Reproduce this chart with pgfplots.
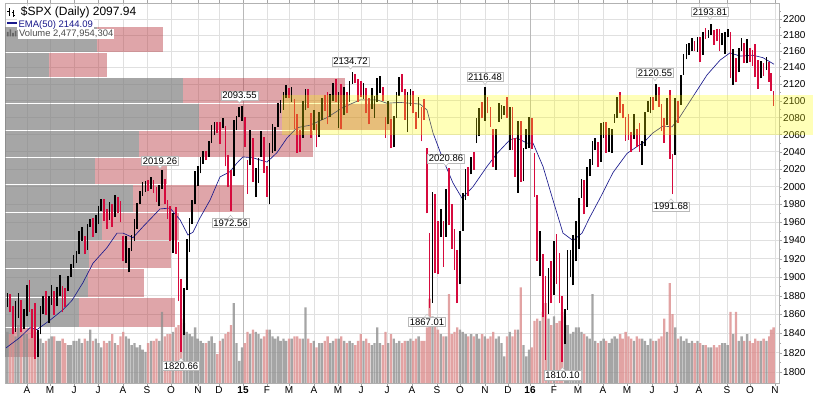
\documentclass[border=0pt]{standalone}
\usepackage{pgfplots}
\pgfplotsset{compat=1.18}
\usepackage{fontspec}
\setmainfont{Liberation Sans}
\definecolor{pricered}{rgb}{0.84,0.04,0.24}
\definecolor{emablue}{rgb}{0.10,0.10,0.55}
\definecolor{vbpgrey}{rgb}{0.5,0.5,0.5}
\definecolor{vbpred}{rgb}{0.72,0.22,0.25}
\definecolor{volgrey}{rgb}{0.56,0.56,0.56}
\definecolor{volred}{rgb}{0.86,0.55,0.55}
\definecolor{hl}{rgb}{1,1,0}
\pgfplotsset{
  base/.style={scale only axis, width=774pt, height=380pt, xmin=5, xmax=779, at={(0pt,0pt)}, anchor=south west},
}
\tikzset{tagbox/.style={draw=gray!55, fill=white, inner sep=1.2pt, font=\fontsize{9.5}{10}\selectfont}}
\newcommand{\vbp}[4]{%
  \addplot[fill=vbpgrey, fill opacity=0.7, draw=none] coordinates {(5,#1)(#3,#1)(#3,#2)(5,#2)} -- cycle;
  \addplot[fill=vbpred, fill opacity=0.45, draw=none] coordinates {(#3,#1)(#4,#1)(#4,#2)(#3,#2)} -- cycle;}
\newcommand{\tagdown}[3]{%
  \node[tagbox] (tg) at (axis cs:#1,#2) {#3};
  \draw[gray!55, fill=white] ([xshift=-2.5pt]tg.south) -- ([yshift=-3pt]tg.south) -- ([xshift=2.5pt]tg.south);}
\newcommand{\tagup}[3]{%
  \node[tagbox] (tg) at (axis cs:#1,#2) {#3};
  \draw[gray!55, fill=white] ([xshift=-2.5pt]tg.north) -- ([yshift=3pt]tg.north) -- ([xshift=2.5pt]tg.north);}
\begin{document}
\begin{tikzpicture}[font=\fontsize{10}{12}\selectfont]
% ---------- axis 1: frame, grid, ticks, volume-by-price ----------
\begin{axis}[base, ymode=log, ymin=1789, ymax=2220.1,
  xtick={27,50,74,98,123,147,171,198,219,243,267,289,314,338,361,387,412,437,460,485,508,530,554,578,603,627,652,676,699,727,750,775},
  xticklabels={A,M,J,J,A,S,O,N,D,\textbf{15},F,M,A,M,J,J,A,S,O,N,D,\textbf{16},F,M,A,M,J,J,A,S,O,N},
  extra x ticks={243,530}, extra x tick labels={},
  extra x tick style={grid=major, major grid style={gray!55, line width=0.6pt}},
  ytick={1800,1820,1840,1860,1880,1900,1920,1940,1960,1980,2000,2020,2040,2060,2080,2100,2120,2140,2160,2180,2200},
  yticklabels={1800,1820,1840,1860,1880,1900,1920,1940,1960,1980,2000,2020,2040,2060,2080,2100,2120,2140,2160,2180,2200},
  minor ytick={1810,1830,1850,1870,1890,1910,1930,1950,1970,1990,2010,2030,2050,2070,2090,2110,2130,2150,2170,2190,2210},
  ytick pos=right, yticklabel pos=right,
  grid=major, major grid style={gray!24, line width=0.6pt},
  tick align=outside, major tick length=3pt, minor tick length=1.5pt,
  tick style={gray!70}, axis line style={gray!60},
  yticklabel style={inner sep=1pt}, xticklabel style={inner sep=1pt},
]
\vbp{2159.4}{2189.4}{97}{163}
\vbp{2128.1}{2158.1}{49}{107}
\vbp{2096.9}{2126.9}{183}{345}
\vbp{2065.6}{2095.6}{199}{392}
\vbp{2034.4}{2064.4}{139}{313}
\vbp{2003.1}{2033.1}{95}{167}
\vbp{1971.9}{2001.9}{133}{244}
\vbp{1940.6}{1970.6}{102}{179}
\vbp{1909.4}{1939.4}{89}{171}
\vbp{1878.1}{1908.1}{88}{144}
\vbp{1846.9}{1876.9}{79}{175}
\vbp{1815.6}{1845.6}{14}{35}
\end{axis}
% ---------- axis 2: volume (billions of shares) ----------
\begin{axis}[base, ymin=0, ymax=17.1, hide axis]
\addplot[ybar, bar width=2.3, bar shift=0pt, fill=volgrey, fill opacity=0.8, draw=none] coordinates {
(7.4,2.3)(15.6,2.1)(18.4,2.6)(24.0,2.2)(26.7,2.2)(37.7,2.3)(40.5,2.0)(43.2,1.8)(48.8,2.0)(51.6,2.1)(57.1,1.9)(59.8,1.9)(68.1,1.7)(70.8,1.7)(73.6,1.9)(76.4,1.9)(79.2,2.0)(81.9,1.8)(87.4,1.9)(90.2,2.4)(95.7,2.0)(98.4,1.8)(101.2,1.6)(109.5,1.9)(115.0,1.8)(126.0,2.1)(128.8,2.0)(131.6,1.7)(134.4,1.8)(137.1,1.6)(139.9,1.7)(142.6,1.5)(145.4,1.4)(150.9,1.9)(159.2,1.9)(162.0,3.2)(173.0,2.3)(184.0,2.7)(186.8,2.3)(189.6,2.2)(192.3,2.1)(195.1,2.5)(197.8,2.0)(200.6,1.9)(203.3,1.8)(208.8,1.9)(211.6,2.1)(214.4,1.8)(222.7,2.0)(233.7,3.6)(236.4,1.8)(239.2,1.0)(242.0,1.6)(250.3,2.2)(255.8,2.3)(258.5,2.2)(261.3,2.0)(269.6,2.4)(272.4,2.1)(275.1,2.0)(277.9,2.1)(280.6,1.9)(283.4,2.0)(286.1,1.9)(291.6,2.0)(302.7,2.0)(305.5,3.4)(313.7,1.9)(319.2,1.8)(322.0,1.8)(330.3,1.8)(333.1,1.9)(338.6,2.0)(344.1,1.9)(349.6,1.9)(352.4,1.8)(363.4,1.9)(371.7,1.7)(374.4,1.8)(377.2,2.5)(380.0,1.8)(388.3,1.8)(393.8,2.0)(396.5,1.8)(399.3,1.9)(407.6,1.9)(410.4,2.0)(418.6,2.1)(432.4,3.0)(440.7,2.2)(446.2,2.1)(460.0,2.4)(462.8,2.3)(465.6,2.2)(471.1,2.2)(476.6,2.2)(479.3,2.0)(484.8,2.1)(495.9,2.0)(498.7,2.1)(501.4,1.8)(504.2,1.2)(509.7,2.3)(518.0,2.4)(523.5,1.7)(526.3,1.2)(529.0,1.5)(540.0,2.8)(548.4,2.9)(553.9,3.0)(564.9,3.0)(567.6,2.6)(570.4,2.2)(573.2,2.3)(576.0,2.5)(578.7,2.5)(581.5,2.3)(587.0,2.1)(589.7,2.0)(592.5,4.0)(595.2,1.9)(600.8,1.9)(603.6,2.0)(609.1,1.8)(611.8,2.0)(614.6,2.1)(617.3,2.0)(633.9,1.9)(642.2,2.0)(644.9,1.9)(647.7,1.7)(650.4,2.0)(656.0,1.9)(667.0,2.3)(675.3,2.5)(680.8,2.1)(683.6,1.9)(686.4,2.0)(689.1,1.8)(691.9,1.9)(697.4,1.9)(702.9,1.7)(708.4,1.6)(711.2,1.6)(722.2,1.8)(725.0,1.8)(727.7,1.7)(733.2,2.2)(738.8,1.9)(741.6,2.1)(747.1,2.2)(760.8,1.9)(766.4,1.9)};
\addplot[ybar, bar width=2.3, bar shift=0pt, fill=volred, fill opacity=0.8, draw=none] coordinates {
(10.1,2.2)(12.9,2.4)(21.2,2.3)(29.5,2.0)(32.2,2.4)(35.0,2.6)(46.0,1.9)(54.3,2.1)(62.6,2.0)(65.3,1.8)(84.7,2.0)(92.9,1.9)(104.0,1.9)(106.8,1.8)(112.3,2.2)(117.8,1.7)(120.5,2.1)(123.3,2.3)(148.1,1.8)(153.6,1.9)(156.4,2.0)(164.7,2.1)(167.5,2.2)(170.2,2.2)(175.7,2.5)(178.5,2.6)(181.2,2.9)(206.1,1.8)(217.2,1.3)(219.9,1.9)(225.4,2.2)(228.2,2.3)(230.9,2.6)(244.8,1.8)(247.5,2.3)(253.0,2.4)(264.0,2.1)(266.8,2.4)(288.9,2.0)(294.4,2.1)(297.2,2.1)(300.0,2.0)(308.2,2.0)(311.0,1.8)(316.5,1.6)(324.8,1.9)(327.6,2.1)(335.8,2.0)(341.3,2.1)(346.8,1.8)(355.2,1.7)(357.9,1.9)(360.7,2.2)(366.2,2.0)(368.9,1.8)(382.8,1.7)(385.5,2.3)(391.0,2.2)(402.0,1.8)(404.8,1.9)(413.1,1.9)(415.9,2.0)(421.4,1.9)(424.1,1.9)(426.9,2.5)(429.6,3.8)(435.2,2.6)(438.0,2.4)(443.5,2.1)(449.0,4.0)(451.7,2.2)(454.5,2.3)(457.2,2.5)(468.3,2.1)(473.8,2.1)(482.1,2.2)(487.6,2.0)(490.4,2.1)(493.2,2.3)(506.9,2.1)(512.4,2.1)(515.2,2.4)(520.8,4.3)(531.8,1.6)(534.5,2.8)(537.3,2.9)(542.8,3.2)(545.6,3.6)(551.1,2.6)(556.6,2.7)(559.4,2.8)(562.1,3.2)(584.2,2.2)(598.0,1.8)(606.3,1.9)(620.1,2.2)(622.8,2.0)(625.6,2.3)(628.4,2.1)(631.2,2.0)(636.7,2.1)(639.4,2.0)(653.2,1.9)(658.8,2.0)(661.5,2.1)(664.3,2.9)(669.8,4.5)(672.5,3.1)(678.0,2.0)(694.6,1.8)(700.1,1.8)(705.6,1.7)(714.0,1.7)(716.7,1.6)(719.5,1.7)(730.5,3.2)(736.0,3.2)(744.3,1.9)(749.8,1.9)(752.6,1.8)(755.3,2.0)(758.1,1.9)(763.6,2.0)(769.2,2.1)(771.0,2.4)(773.6,2.5)};
\end{axis}
% ---------- axis 3: price bars, EMA, highlight, annotations ----------
\begin{axis}[base, ymode=log, ymin=1789, ymax=2220.1, hide axis, clip=false]
\addplot[emablue, line width=0.65pt] coordinates {
(6,1825)(20,1836)(30,1846)(37,1844)(50,1854)(63,1865)(72,1875)(83,1894)(93,1915)(107,1932)(117,1948)(123,1948)(133,1943)(143,1955)(160,1975)(170,1976)(180,1963)(188,1946)(193,1949)(200,1965)(210,1985)(220,2011)(230,2017)(237,2027)(243,2034)(253,2033)(267,2028)(277,2039)(287,2056)(297,2068)(310,2071)(327,2080)(343,2092)(360,2101)(377,2101)(387,2097)(400,2098)(410,2097)(420,2096)(427,2089)(433,2062)(443,2031)(453,2004)(462,1987)(473,2000)(487,2023)(497,2038)(510,2054)(517,2056)(527,2050)(533,2050)(543,2023)(553,1985)(563,1948)(573,1940)(582,1948)(590,1966)(600,1987)(613,2016)(627,2038)(637,2046)(643,2050)(653,2062)(663,2070)(672,2069)(680,2081)(693,2105)(707,2131)(720,2149)(730,2158)(740,2154)(753,2155)(763,2152)(774,2144)};
\addplot[black, line width=1.7pt, unbounded coords=jump] coordinates {
(7.4,1868)(7.4,1883)(7.4,nan) (15.6,1842)(15.6,1874)(15.6,nan) (18.4,1856)(18.4,1883)(18.4,nan) (24.0,1845)(24.0,1866)(24.0,nan) (26.7,1858)(26.7,1891)(26.7,nan) (37.7,1816)(37.7,1844)(37.7,nan) (40.5,1839)(40.5,1869)(40.5,nan) (43.2,1860)(43.2,1880)(43.2,nan) (48.8,1851)(48.8,1880)(48.8,nan) (51.6,1870)(51.6,1891)(51.6,nan) (57.1,1869)(57.1,1889)(57.1,nan) (59.8,1880)(59.8,1902)(59.8,nan) (68.1,1885)(68.1,1901)(68.1,nan) (70.8,1900)(70.8,1914)(70.8,nan) (73.6,1910)(73.6,1924)(73.6,nan) (76.4,1915)(76.4,1928)(76.4,nan) (79.2,1925)(79.2,1950)(79.2,nan) (81.9,1940)(81.9,1955)(81.9,nan) (87.4,1930)(87.4,1958)(87.4,nan) (90.2,1955)(90.2,1964)(90.2,nan) (95.7,1948)(95.7,1968)(95.7,nan) (98.4,1958)(98.4,1978)(98.4,nan) (101.2,1972)(101.2,1986)(101.2,nan) (109.5,1963)(109.5,1983)(109.5,nan) (115.0,1966)(115.0,1991)(115.0,nan) (126.0,1915)(126.0,1945)(126.0,nan) (128.8,1905)(128.8,1932)(128.8,nan) (131.6,1928)(131.6,1946)(131.6,nan) (134.4,1939)(134.4,1964)(134.4,nan) (137.1,1953)(137.1,1982)(137.1,nan) (139.9,1980)(139.9,1995)(139.9,nan) (142.6,1990)(142.6,2005)(142.6,nan) (145.4,1994)(145.4,2006)(145.4,nan) (150.9,1998)(150.9,2011)(150.9,nan) (159.2,1978)(159.2,2002)(159.2,nan) (162.0,1998)(162.0,2019.26)(162.0,nan) (173.0,1926)(173.0,1970)(173.0,nan) (184.0,1838)(184.0,1888)(184.0,nan) (186.8,1886)(186.8,1942)(186.8,nan) (189.6,1927)(189.6,1965)(189.6,nan) (192.3,1958)(192.3,1985)(192.3,nan) (195.1,1980)(195.1,2018)(195.1,nan) (197.8,2001)(197.8,2024)(197.8,nan) (200.6,2015)(200.6,2034)(200.6,nan) (203.3,2026)(203.3,2041)(203.3,nan) (208.8,2034)(208.8,2052)(208.8,nan) (211.6,2050)(211.6,2071)(211.6,nan) (214.4,2059)(214.4,2075)(214.4,nan) (222.7,2068)(222.7,2079)(222.7,nan) (233.7,2012)(233.7,2077)(233.7,nan) (236.4,2065)(236.4,2082)(236.4,nan) (239.2,2081)(239.2,2093)(239.2,nan) (242.0,2076)(242.0,2093.55)(242.0,nan) (250.3,2025)(250.3,2065)(250.3,nan) (255.8,1988)(255.8,2021)(255.8,nan) (258.5,2004)(258.5,2033)(258.5,nan) (261.3,2034)(261.3,2064)(261.3,nan) (269.6,1980)(269.6,2050)(269.6,nan) (272.4,2039)(272.4,2072)(272.4,nan) (275.1,2041)(275.1,2069)(275.1,nan) (277.9,2069)(277.9,2097)(277.9,nan) (280.6,2085)(280.6,2101)(280.6,nan) (283.4,2089)(283.4,2110)(283.4,nan) (286.1,2103)(286.1,2119)(286.1,nan) (291.6,2098)(291.6,2117)(291.6,nan) (302.7,2056)(302.7,2100)(302.7,nan) (305.5,2089)(305.5,2114)(305.5,nan) (313.7,2065)(313.7,2089)(313.7,nan) (319.2,2057)(319.2,2086)(319.2,nan) (322.0,2077)(322.0,2103)(322.0,nan) (330.3,2081)(330.3,2108)(330.3,nan) (333.1,2100)(333.1,2121)(333.1,nan) (338.6,2068)(338.6,2110)(338.6,nan) (344.1,2083)(344.1,2117)(344.1,nan) (349.6,2099)(349.6,2124)(349.6,nan) (352.4,2120)(352.4,2134.72)(352.4,nan) (363.4,2102)(363.4,2121)(363.4,nan) (371.7,2090)(371.7,2115)(371.7,nan) (374.4,2080)(374.4,2106)(374.4,nan) (377.2,2098)(377.2,2127)(377.2,nan) (380.0,2109)(380.0,2130)(380.0,nan) (388.3,2072)(388.3,2100)(388.3,nan) (393.8,2045)(393.8,2082)(393.8,nan) (396.5,2079)(396.5,2110)(396.5,nan) (399.3,2106)(399.3,2128)(399.3,nan) (407.6,2063)(407.6,2110)(407.6,nan) (410.4,2094)(410.4,2114)(410.4,nan) (418.6,2079)(418.6,2105)(418.6,nan) (432.4,1872)(432.4,1994)(432.4,nan) (440.7,1944)(440.7,1975)(440.7,nan) (446.2,1944)(446.2,1997)(446.2,nan) (460.0,1892)(460.0,1951)(460.0,nan) (462.8,1951)(462.8,1993)(462.8,nan) (465.6,1985)(465.6,2020)(465.6,nan) (471.1,2014)(471.1,2034)(471.1,nan) (476.6,2050)(476.6,2080)(476.6,nan) (479.3,2058)(479.3,2091)(479.3,nan) (484.8,2076)(484.8,2116.48)(484.8,nan) (495.9,2019)(495.9,2066)(495.9,nan) (498.7,2075)(498.7,2097)(498.7,nan) (501.4,2078)(501.4,2095)(501.4,nan) (504.2,2083)(504.2,2094)(504.2,nan) (509.7,2042)(509.7,2093)(509.7,nan) (518.0,1993)(518.0,2076)(518.0,nan) (523.5,2006)(523.5,2044)(523.5,nan) (526.3,2043)(526.3,2067)(526.3,nan) (529.0,2044)(529.0,2081)(529.0,nan) (540.0,1901)(540.0,1950)(540.0,nan) (548.4,1860)(548.4,1910)(548.4,nan) (553.9,1881)(553.9,1940)(553.9,nan) (564.9,1829)(564.9,1866)(564.9,nan) (567.6,1865)(567.6,1930)(567.6,nan) (570.4,1900)(570.4,1930)(570.4,nan) (573.2,1891)(573.2,1946)(573.2,nan) (576.0,1917)(576.0,1962)(576.0,nan) (578.7,1931)(578.7,1987)(578.7,nan) (581.5,1987)(581.5,2009)(581.5,nan) (587.0,1977)(587.0,2022)(587.0,nan) (589.7,2012)(589.7,2032)(589.7,nan) (592.5,2025)(592.5,2052)(592.5,nan) (595.2,2042)(595.2,2056)(595.2,nan) (600.8,2028)(600.8,2073)(600.8,nan) (603.6,2056)(603.6,2075)(603.6,nan) (609.1,2040)(609.1,2068)(609.1,nan) (611.8,2039)(611.8,2066)(611.8,nan) (614.6,2074)(614.6,2084)(614.6,nan) (617.3,2080)(617.3,2105)(617.3,nan) (633.9,2055)(633.9,2084)(633.9,nan) (642.2,2025)(642.2,2053)(642.2,nan) (644.9,2047)(644.9,2086)(644.9,nan) (647.7,2087)(647.7,2100)(647.7,nan) (650.4,2085)(650.4,2105)(650.4,nan) (656.0,2100)(656.0,2120.55)(656.0,nan) (667.0,2071)(667.0,2103)(667.0,nan) (675.3,2036)(675.3,2103)(675.3,nan) (680.8,2095)(680.8,2131)(680.8,nan) (683.6,2131)(683.6,2156)(683.6,nan) (686.4,2150)(686.4,2169)(686.4,nan) (689.1,2155)(689.1,2170)(689.1,nan) (691.9,2160)(691.9,2176)(691.9,nan) (697.4,2159)(697.4,2177)(697.4,nan) (702.9,2155)(702.9,2184)(702.9,nan) (708.4,2176)(708.4,2186)(708.4,nan) (711.2,2180)(711.2,2193.81)(711.2,nan) (722.2,2167)(722.2,2183)(722.2,nan) (725.0,2157)(725.0,2184)(725.0,nan) (727.7,2177)(727.7,2187)(727.7,nan) (733.2,2119)(733.2,2163)(733.2,nan) (738.8,2134)(738.8,2164)(738.8,nan) (741.6,2160)(741.6,2176)(741.6,nan) (747.1,2145)(747.1,2175)(747.1,nan) (760.8,2127)(760.8,2148)(760.8,nan) (766.4,2137)(766.4,2153)(766.4,nan)};
\addplot[pricered, line width=1.7pt, unbounded coords=jump] coordinates {
(10.1,1862)(10.1,1882)(10.1,nan) (12.9,1839)(12.9,1869)(12.9,nan) (21.2,1842)(21.2,1875)(21.2,nan) (29.5,1863)(29.5,1897)(29.5,nan) (32.2,1835)(32.2,1866)(32.2,nan) (35.0,1814)(35.0,1872)(35.0,nan) (46.0,1859)(46.0,1885)(46.0,nan) (54.3,1859)(54.3,1885)(54.3,nan) (62.6,1862)(62.6,1890)(62.6,nan) (65.3,1868)(65.3,1888)(65.3,nan) (84.7,1925)(84.7,1945)(84.7,nan) (92.9,1944)(92.9,1965)(92.9,nan) (104.0,1962)(104.0,1986)(104.0,nan) (106.8,1953)(106.8,1975)(106.8,nan) (112.3,1955)(112.3,1980)(112.3,nan) (117.8,1970)(117.8,1989)(117.8,nan) (120.5,1960)(120.5,1984)(120.5,nan) (123.3,1917)(123.3,1945)(123.3,nan) (148.1,1995)(148.1,2007)(148.1,nan) (153.6,1993)(153.6,2008)(153.6,nan) (156.4,1983)(156.4,2000)(156.4,nan) (164.7,1980)(164.7,2009)(164.7,nan) (167.5,1964)(167.5,1985)(167.5,nan) (170.2,1940)(170.2,1978)(170.2,nan) (175.7,1925)(175.7,1977)(175.7,nan) (178.5,1874)(178.5,1938)(178.5,nan) (181.2,1820.66)(181.2,1898)(181.2,nan) (206.1,2030)(206.1,2041)(206.1,nan) (217.2,2062)(217.2,2075)(217.2,nan) (219.9,2049)(219.9,2075)(219.9,nan) (225.4,2023)(225.4,2070)(225.4,nan) (228.2,2000)(228.2,2036)(228.2,nan) (230.9,1972.56)(230.9,2019)(230.9,nan) (244.8,2046)(244.8,2081)(244.8,nan) (247.5,1992)(247.5,2030)(247.5,nan) (253.0,2005)(253.0,2056)(253.0,nan) (264.0,2016)(264.0,2057)(264.0,nan) (266.8,1989)(266.8,2023)(266.8,nan) (288.9,2103)(288.9,2115)(288.9,nan) (294.4,2066)(294.4,2102)(294.4,nan) (297.2,2039)(297.2,2084)(297.2,nan) (300.0,2040)(300.0,2065)(300.0,nan) (308.2,2091)(308.2,2114)(308.2,nan) (311.0,2056)(311.0,2085)(311.0,nan) (316.5,2045)(316.5,2072)(316.5,nan) (324.8,2088)(324.8,2107)(324.8,nan) (327.6,2072)(327.6,2111)(327.6,nan) (335.8,2099)(335.8,2126)(335.8,nan) (341.3,2067)(341.3,2120)(341.3,nan) (346.8,2085)(346.8,2110)(346.8,nan) (355.2,2121)(355.2,2132)(355.2,nan) (357.9,2099)(357.9,2126)(357.9,nan) (360.7,2104)(360.7,2124)(360.7,nan) (366.2,2085)(366.2,2115)(366.2,nan) (368.9,2072)(368.9,2103)(368.9,nan) (382.8,2100)(382.8,2117)(382.8,nan) (385.5,2056)(385.5,2081)(385.5,nan) (391.0,2044)(391.0,2078)(391.0,nan) (402.0,2110)(402.0,2132)(402.0,nan) (404.8,2077)(404.8,2114)(404.8,nan) (413.1,2085)(413.1,2112)(413.1,nan) (415.9,2067)(415.9,2087)(415.9,nan) (421.4,2052)(421.4,2093)(421.4,nan) (424.1,2077)(424.1,2102)(424.1,nan) (426.9,1970)(426.9,2044)(426.9,nan) (429.6,1867.01)(429.6,1948)(429.6,nan) (435.2,1904)(435.2,1992)(435.2,nan) (438.0,1903)(438.0,1962)(438.0,nan) (443.5,1911)(443.5,1961)(443.5,nan) (449.0,1957)(449.0,2020.86)(449.0,nan) (451.7,1931)(451.7,1981)(451.7,nan) (454.5,1908)(454.5,1953)(454.5,nan) (457.2,1872)(457.2,1929)(457.2,nan) (468.3,1990)(468.3,2022)(468.3,nan) (473.8,2019)(473.8,2040)(473.8,nan) (482.1,2079)(482.1,2099)(482.1,nan) (487.6,2085)(487.6,2104)(487.6,nan) (490.4,2069)(490.4,2093)(490.4,nan) (493.2,2022)(493.2,2067)(493.2,nan) (506.9,2080)(506.9,2104)(506.9,nan) (512.4,2042)(512.4,2093)(512.4,nan) (515.2,2011)(515.2,2056)(515.2,nan) (520.8,2005)(520.8,2076)(520.8,nan) (531.8,2043)(531.8,2080)(531.8,nan) (534.5,1989)(534.5,2038)(534.5,nan) (537.3,1918)(537.3,1991)(537.3,nan) (542.8,1857)(542.8,1925)(542.8,nan) (545.6,1812.29)(545.6,1901)(545.6,nan) (551.1,1872)(551.1,1917)(551.1,nan) (556.6,1893)(556.6,1947)(556.6,nan) (559.4,1872)(559.4,1926)(559.4,nan) (562.1,1810.10)(562.1,1880)(562.1,nan) (584.2,1969)(584.2,2007)(584.2,nan) (598.0,2022)(598.0,2051)(598.0,nan) (606.3,2039)(606.3,2075)(606.3,nan) (620.1,2085)(620.1,2111)(620.1,nan) (622.8,2079)(622.8,2096)(622.8,nan) (625.6,2053)(625.6,2081)(625.6,nan) (628.4,2054)(628.4,2084)(628.4,nan) (631.2,2040)(631.2,2063)(631.2,nan) (636.7,2045)(636.7,2067)(636.7,nan) (639.4,2040)(639.4,2073)(639.4,nan) (653.2,2089)(653.2,2105)(653.2,nan) (658.8,2093)(658.8,2116)(658.8,nan) (661.5,2064)(661.5,2096)(661.5,nan) (664.3,2050)(664.3,2080)(664.3,nan) (669.8,2032)(669.8,2113)(669.8,nan) (672.5,1991.68)(672.5,2037)(672.5,nan) (678.0,2074)(678.0,2100)(678.0,nan) (694.6,2160)(694.6,2173)(694.6,nan) (700.1,2147)(700.1,2178)(700.1,nan) (705.6,2175)(705.6,2188)(705.6,nan) (714.0,2168)(714.0,2186)(714.0,nan) (716.7,2172)(716.7,2187)(716.7,nan) (719.5,2160)(719.5,2187)(719.5,nan) (730.5,2127)(730.5,2184)(730.5,nan) (736.0,2122)(736.0,2152)(736.0,nan) (744.3,2145)(744.3,2170)(744.3,nan) (749.8,2147)(749.8,2164)(749.8,nan) (752.6,2142)(752.6,2161)(752.6,nan) (755.3,2128)(755.3,2169)(755.3,nan) (758.1,2114)(758.1,2149)(758.1,nan) (763.6,2130)(763.6,2146)(763.6,nan) (769.2,2123)(769.2,2147)(769.2,nan) (771.0,2112)(771.0,2133)(771.0,nan) (773.6,2094)(773.6,2112)(773.6,nan)};
% yellow highlight band
\addplot[fill=hl, fill opacity=0.28, draw=none] coordinates {(282,2059)(813,2059)(813,2107)(282,2107)} -- cycle;
% annotations
\tagdown{710}{2208.8}{2193.81}
\tagdown{655}{2133.5}{2120.55}
\tagdown{485}{2128.7}{2116.48}
\tagdown{446}{2032.4}{2020.86}
\tagdown{160}{2029.5}{2019.26}
\tagdown{239.5}{2106.5}{2093.55}
\tagdown{350.5}{2147.5}{2134.72}
\tagup{671}{1977.8}{1991.68}
\tagup{427}{1852.2}{1867.01}
\tagup{562.5}{1796.7}{1810.10}
\tagup{181}{1806.5}{1820.66}
\tagup{230.5}{1959.3}{1972.56}
\end{axis}
% ---------- header ----------
\node[anchor=base west, fill=white, inner sep=1pt, font=\fontsize{12}{14}\selectfont] at (14.7pt,367pt) {\$SPX (Daily) 2097.94};
\draw[black, line width=0.7pt] (4pt,367pt)--(4pt,375pt) (2.5pt,372pt)--(4pt,372pt) (4pt,369pt)--(5.5pt,369pt);
\draw[black, line width=0.7pt] (8.5pt,366pt)--(8.5pt,373pt) (7pt,371pt)--(8.5pt,371pt) (8.5pt,367.5pt)--(10pt,367.5pt);
\draw[emablue, line width=1.6pt] (2pt,360pt)--(12pt,360pt);
\node[anchor=base west, fill=white, inner sep=1pt, text=emablue, font=\fontsize{9.5}{11}\selectfont] at (12.3pt,355.7pt) {EMA(50) 2144.09};
\node[anchor=base west, fill=white, inner sep=1pt, text=black!70, font=\fontsize{9.4}{11}\selectfont] at (13pt,346.3pt) {Volume 2,477,954,304};
\fill[black!60] (2pt,346.5pt) rectangle (3.6pt,351pt) (4.6pt,346.5pt) rectangle (6.2pt,353.5pt) (7.2pt,346.5pt) rectangle (8.8pt,350pt) (9.8pt,346.5pt) rectangle (11.4pt,352pt);
\pgfresetboundingbox
\useasboundingbox (-5pt,-14pt) rectangle (808pt,383pt);
\end{tikzpicture}
\end{document}
